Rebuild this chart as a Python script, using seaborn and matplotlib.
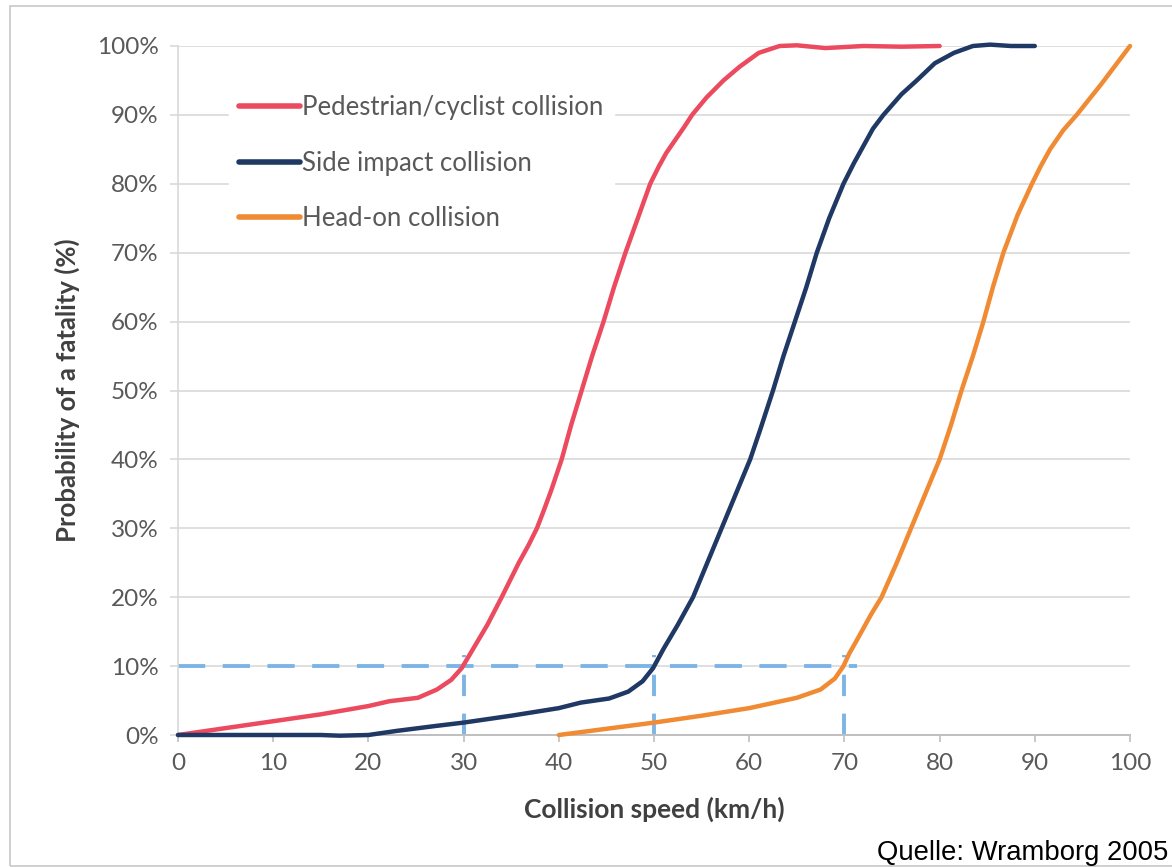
import matplotlib
matplotlib.use("Agg")
import matplotlib.pyplot as plt
import seaborn as sns
import pandas as pd
from matplotlib.patches import Rectangle

# ---------------- data ----------------
ped_speed = [0, 5, 10, 15, 20, 22.2, 25.2, 27.2, 28.7, 29.8, 31, 32.5, 34.0, 35.8,
             36.8, 37.7, 38.4, 39.2, 40.3, 41.3, 42.4, 43.5, 44.7, 45.8, 47.0, 48.3,
             49.6, 50.5, 51.3, 52.3, 53.2, 54.0, 55.5, 57.3, 59, 61, 63.2, 65, 68,
             72, 76, 80]
ped_prob = [0, 1, 2, 3, 4.2, 4.9, 5.4, 6.6, 8, 9.7, 12.5, 16, 20, 25,
            27.5, 30, 32.5, 35.5, 40, 45, 50, 55, 60, 65, 70, 75,
            80, 82.5, 84.5, 86.5, 88.3, 90, 92.5, 95, 97, 99, 100, 100.1, 99.7,
            100, 99.9, 100]

side_speed = [0, 5, 10, 15, 17, 20, 23, 27, 30, 35, 40, 42.3, 45.3, 47.3, 48.8, 49.9,
              51, 52.5, 54.1, 55.6, 57.1, 58.6, 60.1, 61.2, 62.5, 63.6, 64.8, 66.0,
              67.1, 68.4, 69.9, 71, 72, 73, 74.1, 76, 77.6, 79.5, 81.5, 83.5, 85.3,
              87.5, 90]
side_prob = [0, 0, 0, 0, -0.1, 0, 0.6, 1.3, 1.8, 2.8, 3.9, 4.7, 5.3, 6.3, 7.8, 9.7,
             12.5, 16, 20, 25, 30, 35, 40, 44.5, 50, 55, 60, 65,
             70, 75, 80, 83, 85.5, 88, 90, 93, 95, 97.5, 99, 100, 100.2,
             100, 100]

head_speed = [40, 45, 50, 55, 60, 63, 65, 67.5, 69, 69.9, 70.5, 71.2, 72, 72.8, 73.9,
              75.5, 77.0, 78.5, 80.0, 81.2, 82.3, 83.5, 84.6, 85.6, 86.7, 88.2, 89.7,
              90.6, 91.6, 93.0, 94.4, 97, 100]
head_prob = [0, 0.9, 1.8, 2.8, 3.9, 4.8, 5.4, 6.6, 8.2, 10, 11.8, 13.5, 15.5, 17.5, 20,
             25, 30, 35, 40, 45, 50, 55, 60, 65, 70, 75.5, 80,
             82.5, 85, 87.8, 90, 94.5, 100]

series_names = ["Pedestrian/cyclist collision", "Side impact collision", "Head-on collision"]
series_colors = ["#EC4A5E", "#1F3864", "#F08A33"]

ref_speeds = [30, 50, 70]   # speeds giving 10 % fatality
ref_prob = 10

x_ticks = [0, 10, 20, 30, 40, 50, 60, 70, 80, 90, 100]
y_ticks = [0, 10, 20, 30, 40, 50, 60, 70, 80, 90, 100]
y_tick_labels = ["0%", "10%", "20%", "30%", "40%", "50%", "60%", "70%", "80%", "90%", "100%"]

x_label = "Collision speed (km/h)"
y_label = "Probability of a fatality (%)"
source = "Quelle: Wramborg 2005"

# ---------------- build long-form table ----------------
frames = []
for name, xs, ys in zip(series_names, [ped_speed, side_speed, head_speed],
                        [ped_prob, side_prob, head_prob]):
    frames.append(pd.DataFrame({"speed": xs, "prob": ys, "series": name}))
df = pd.concat(frames, ignore_index=True)

# ---------------- plot ----------------
sns.set_style("white")
plt.rcParams["font.family"] = ["Lato", "DejaVu Sans"]

fig = plt.figure(figsize=(11.72, 8.67), dpi=100)
ax = fig.add_axes([178 / 1172, 1 - 735 / 867, (1130 - 178) / 1172, (735 - 46) / 867])

grid_c = "#D9D9D9"
ref_c = "#7DB4E6"
text_c = "#595959"

# reference dashed lines
ax.plot([0, 71.3], [ref_prob, ref_prob], color=ref_c, lw=2.8, ls=(0, (7, 4.5)),
        zorder=2, clip_on=False)
for s in ref_speeds:
    ax.plot([s, s], [0, 11.6], color=ref_c, lw=2.8, ls=(0, (5.5, 4.5)), zorder=2,
            clip_on=False)

sns.lineplot(data=df, x="speed", y="prob", hue="series", hue_order=series_names,
             palette=series_colors, estimator=None, sort=False, lw=3.2, ax=ax,
             zorder=3)
for ln in ax.get_lines():
    ln.set_clip_on(False)
    ln.set_solid_capstyle("round")
    ln.set_solid_joinstyle("round")

ax.set_xlim(0, 100)
ax.set_ylim(0, 100)
ax.set_xticks(x_ticks)
ax.set_yticks(y_ticks)
ax.set_yticklabels(y_tick_labels)

ax.yaxis.grid(True, color=grid_c, lw=1.2, zorder=0)
ax.xaxis.grid(False)
for sp in ["top", "right"]:
    ax.spines[sp].set_visible(False)
ax.spines["left"].set_color(grid_c)
ax.spines["left"].set_linewidth(1.2)
ax.spines["bottom"].set_color("#BFBFBF")
ax.spines["bottom"].set_linewidth(1.4)

ax.tick_params(axis="y", which="major", length=6, width=1.2, color=grid_c,
               labelsize=17.5, labelcolor=text_c, pad=8, left=True)
ax.tick_params(axis="x", which="major", length=5, width=1.2, color="#BFBFBF",
               labelsize=17.5, labelcolor=text_c, pad=8, bottom=True, direction="out")

ax.set_xlabel(x_label, fontsize=19, fontweight="bold", color="#404040", labelpad=16)
ax.set_ylabel(y_label, fontsize=18.5, fontweight="bold", color="#404040", labelpad=12)

leg = ax.legend(loc="upper left", bbox_to_anchor=(0.04, 0.962), frameon=True,
                fontsize=18.5, handlelength=2.35, handletextpad=0.1,
                labelspacing=1.18, borderpad=0.4)
leg.get_frame().set_facecolor("white")
leg.get_frame().set_edgecolor("white")
leg.get_frame().set_alpha(1)
leg.set_title(None)
for t in leg.get_texts():
    t.set_color(text_c)
for h in leg.get_lines():
    h.set_linewidth(4)

fig.text(1168 / 1172, 1 - 860 / 867, source, ha="right", va="baseline",
         fontsize=19.8, family=["Liberation Sans", "DejaVu Sans"], color="black")

# light outer frame of the slide
fig.patches.append(Rectangle((10 / 1172, 1 / 867), 1.2, 1 - 7 / 867,
                             transform=fig.transFigure, fill=False,
                             edgecolor="#C8C8C8", lw=1.2))

fig.savefig("out.png", dpi=100)
